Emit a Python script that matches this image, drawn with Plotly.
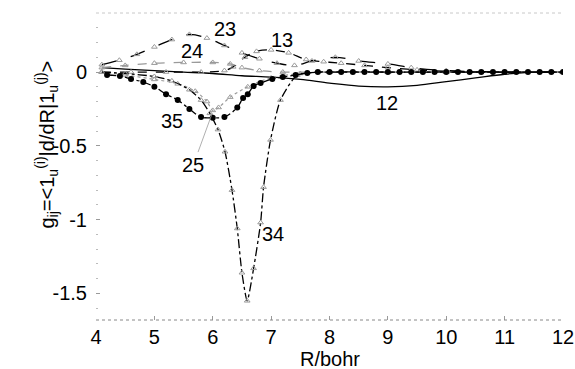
import plotly.graph_objects as go

# ---- data ----
x12 = [4.1, 4.5, 5.0, 5.5, 6.0, 6.5, 7.0, 7.5, 8.0, 8.5, 9.0, 9.5, 10.0, 10.5, 11.0, 11.5, 12.0]
y12 = [0.03, 0.02, 0.01, 0.0, -0.01, -0.025, -0.035, -0.05, -0.075, -0.095, -0.1, -0.09, -0.065, -0.04, -0.015, 0.0, 0.0]

x13 = [4.1, 4.6, 5.2, 5.8, 6.2, 6.35, 6.55, 6.75, 7.0, 7.3, 7.6, 7.9, 8.2, 8.6, 9.0, 9.5, 10.0, 11.0, 12.0]
y13 = [0.0, 0.0, 0.0, 0.0, 0.01, 0.035, 0.1, 0.14, 0.15, 0.13, 0.085, 0.07, 0.06, 0.045, 0.03, 0.015, 0.005, 0.0, 0.0]

x23 = [4.1, 4.4, 4.7, 5.0, 5.3, 5.6, 5.9, 6.2, 6.5, 6.8, 7.1, 7.4, 7.7, 8.1, 8.5, 9.0, 9.4, 10.0, 11.0, 12.0]
y23 = [0.05, 0.08, 0.12, 0.17, 0.22, 0.255, 0.23, 0.18, 0.13, 0.09, 0.06, 0.045, 0.075, 0.1, 0.075, 0.055, 0.03, 0.01, 0.0, 0.0]

x24 = [4.1, 4.5, 5.0, 5.5, 6.0, 6.3, 6.5, 6.8, 7.2, 8.0, 9.0, 10.0, 11.0, 12.0]
y24 = [0.03, 0.045, 0.06, 0.065, 0.065, 0.055, 0.03, 0.01, 0.0, 0.0, 0.0, 0.0, 0.0, 0.0]

x25 = [4.1, 4.5, 5.0, 5.4, 5.7, 5.9, 6.0, 6.1, 6.3, 6.6, 7.0, 7.5, 8.0, 9.0, 10.0, 11.0, 12.0]
y25 = [0.0, -0.02, -0.05, -0.08, -0.13, -0.2, -0.26, -0.24, -0.17, -0.1, -0.04, -0.01, 0.0, 0.0, 0.0, 0.0, 0.0]

x34 = [4.1, 4.5, 5.0, 5.3, 5.6, 5.8, 5.95, 6.09, 6.21, 6.33, 6.42, 6.5, 6.59, 6.7, 6.82, 6.87, 6.99, 7.16, 7.45, 8.0, 9.0, 10.0, 11.0, 12.0]
y34 = [0.0, -0.01, -0.03, -0.06, -0.12, -0.19, -0.28, -0.39, -0.54, -0.8, -1.06, -1.36, -1.55, -1.33, -1.02, -0.78, -0.46, -0.19, -0.02, 0.0, 0.0, 0.0, 0.0, 0.0]

x35 = [4.19, 4.41, 4.6, 4.81, 5.0, 5.2, 5.4, 5.6, 5.8, 6.0, 6.2, 6.42, 6.52, 6.6, 6.7, 6.82, 7.02, 7.2, 7.42, 7.62, 7.8,
       8.0, 8.2, 8.4, 8.6, 8.8, 9.0, 9.2, 9.4, 9.6, 9.8, 10.0, 10.2, 10.4, 10.6, 10.8, 11.0, 11.2, 11.4, 11.6, 11.8, 12.0]
y35 = [-0.02, -0.027, -0.047, -0.068, -0.1, -0.15, -0.19, -0.25, -0.305, -0.31, -0.305, -0.24, -0.176, -0.15, -0.095, -0.075, -0.047, -0.034, -0.02, -0.007, 0.0,
       0.0, 0.0, 0.0, 0.0, 0.0, 0.0, 0.0, 0.0, 0.0, 0.0, 0.0, 0.0, 0.0, 0.0, 0.0, 0.0, 0.0, 0.0, 0.0, 0.0, 0.0]

labels = ["23", "24", "13", "35", "25", "34", "12"]
label_x = [6.21, 5.64, 7.18, 5.30, 5.67, 7.04, 8.98]
label_y = [0.29, 0.14, 0.22, -0.33, -0.627, -1.094, -0.207]

xticks = [4, 5, 6, 7, 8, 9, 10, 11, 12]
yticks = [0, -0.5, -1, -1.5]
ytick_text = ["0", "-0.5", "-1", "-1.5"]

FONT = "Liberation Sans, Arial, sans-serif"
FS = 20
GRAY = "#9a9a9a"
tri = dict(symbol="triangle-up-open", size=5, color=GRAY, line=dict(width=1, color=GRAY))

fig = go.Figure()
fig.add_trace(go.Scatter(x=x12, y=y12, mode="lines", line=dict(color="black", width=1.3, shape="spline")))
fig.add_trace(go.Scatter(x=x24, y=y24, mode="lines+markers", line=dict(color=GRAY, width=1.3, dash="dash", shape="spline"), marker=tri))
fig.add_trace(go.Scatter(x=x25, y=y25, mode="lines+markers", line=dict(color=GRAY, width=1.2, dash="dot", shape="spline"), marker=tri))
fig.add_trace(go.Scatter(x=x13, y=y13, mode="lines+markers", line=dict(color="black", width=1.3, dash="dash", shape="spline"), marker=tri))
fig.add_trace(go.Scatter(x=x23, y=y23, mode="lines+markers", line=dict(color="black", width=1.3, dash="longdash", shape="spline"), marker=tri))
fig.add_trace(go.Scatter(x=x34, y=y34, mode="lines+markers", line=dict(color="black", width=1.3, dash="dashdot", shape="spline", smoothing=0.6), marker=tri))
fig.add_trace(go.Scatter(x=x35, y=y35, mode="lines+markers", line=dict(color="black", width=1.3, dash="dashdot", shape="spline"),
                         marker=dict(symbol="circle", size=6, color="black")))

for t, lx, ly in zip(labels, label_x, label_y):
    if t == "25":
        fig.add_annotation(x=5.99, y=-0.28, ax=lx, ay=ly, axref="x", ayref="y", text=t, showarrow=True,
                           arrowhead=0, arrowwidth=0.8, arrowcolor=GRAY, font=dict(size=FS, color="black", family=FONT))
    else:
        fig.add_annotation(x=lx, y=ly, text=t, showarrow=False, font=dict(size=FS, color="black", family=FONT))

fig.add_annotation(xref="paper", yref="paper", x=0, y=0.57, xshift=-66, textangle=-90,
                   text="g<sub>ij</sub>=&lt;1<sub>u</sub><sup>(i)</sup>|d/dR|1<sub>u</sub><sup>(j)</sup>&gt;",
                   showarrow=False, font=dict(size=FS, color="black", family=FONT))

# x-axis title
fig.add_annotation(xref="paper", yref="paper", x=0.5, y=0, yshift=-39, xanchor="center", yanchor="middle",
                   text="R/bohr", showarrow=False, font=dict(size=FS, color="black", family=FONT))

# frame
fig.add_shape(type="line", xref="paper", yref="paper", x0=0, x1=1, y0=0, y1=0, line=dict(color="#888", width=1, dash="dot"))
fig.add_shape(type="line", xref="paper", yref="paper", x0=0, x1=1, y0=1, y1=1, line=dict(color="#c8c8c8", width=1, dash="dot"))

fig.update_layout(
    width=575, height=369,
    margin=dict(l=96, r=12, t=13, b=49, autoexpand=False),
    paper_bgcolor="white", plot_bgcolor="white",
    showlegend=False,
    font=dict(family=FONT, size=FS, color="black"),
    xaxis=dict(range=[4, 12], tickvals=xticks, showgrid=False, zeroline=False, showline=False, automargin=False,
               ticks="inside", ticklen=4, tickcolor=GRAY, ticklabelstandoff=3,
               tickfont=dict(size=FS)),
    yaxis=dict(range=[-1.68, 0.40], tickvals=yticks, ticktext=ytick_text, showgrid=False, zeroline=False, showline=False,
               automargin=False,
               ticks="inside", ticklen=4, tickcolor=GRAY, ticklabelstandoff=8,
               minor=dict(dtick=0.1, ticks="inside", ticklen=2, tickcolor="#bbb"),
               tickfont=dict(size=FS)),
)

fig.write_html("out.html")
